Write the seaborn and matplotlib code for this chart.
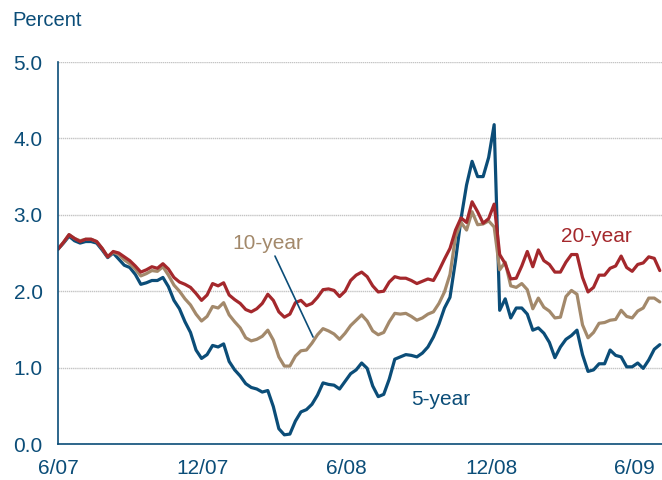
import matplotlib
matplotlib.use("Agg")
import matplotlib.pyplot as plt
import numpy as np
import pandas as pd
import seaborn as sns

# -------------------------------
# DATA - weekly yields, percent
# -------------------------------
start = pd.Timestamp("2007-06-01")

yr5 = [2.55, 2.63, 2.72, 2.66, 2.63, 2.65, 2.65, 2.63, 2.54, 2.44,
       2.50, 2.42, 2.34, 2.31, 2.22, 2.09, 2.11, 2.14, 2.14, 2.18,
       2.06, 1.88, 1.77, 1.60, 1.46, 1.23, 1.12, 1.17, 1.29, 1.27,
       1.31, 1.08, 0.97, 0.89, 0.79, 0.74, 0.72, 0.68, 0.70, 0.49,
       0.20, 0.12, 0.13, 0.30, 0.42, 0.45, 0.52, 0.64, 0.80, 0.78,
       0.77, 0.72, 0.82, 0.92, 0.97, 1.06, 0.99, 0.76, 0.62, 0.65,
       0.85, 1.11, 1.14, 1.17, 1.16, 1.14, 1.19, 1.27, 1.40, 1.57,
       1.78, 1.92, 2.40, 2.95, 3.39, 3.70, 3.50, 3.50, 3.75, 4.18,
       1.75, 1.90, 1.65, 1.78, 1.78, 1.70, 1.49, 1.52, 1.45, 1.33,
       1.13, 1.27, 1.37, 1.42, 1.49, 1.17, 0.95, 0.97, 1.05, 1.05,
       1.23, 1.16, 1.14, 1.01, 1.01, 1.06, 0.99, 1.10, 1.24, 1.30]

yr10 = [2.55, 2.64, 2.74, 2.69, 2.66, 2.68, 2.68, 2.65, 2.56, 2.45,
        2.51, 2.48, 2.41, 2.36, 2.29, 2.20, 2.23, 2.27, 2.26, 2.32,
        2.21, 2.08, 2.00, 1.90, 1.82, 1.70, 1.61, 1.67, 1.80, 1.78,
        1.85, 1.69, 1.60, 1.52, 1.39, 1.35, 1.37, 1.41, 1.49, 1.36,
        1.14, 1.02, 1.02, 1.15, 1.22, 1.23, 1.32, 1.43, 1.51, 1.48,
        1.44, 1.37, 1.45, 1.55, 1.62, 1.69, 1.61, 1.48, 1.43, 1.46,
        1.60, 1.71, 1.70, 1.71, 1.67, 1.62, 1.65, 1.70, 1.73, 1.84,
        1.99, 2.22, 2.71, 2.90, 2.80, 3.04, 2.87, 2.88, 2.92, 2.84,
        2.28, 2.38, 2.07, 2.05, 2.10, 2.02, 1.77, 1.91, 1.79, 1.74,
        1.65, 1.66, 1.93, 2.01, 1.96, 1.56, 1.39, 1.46, 1.58, 1.59,
        1.62, 1.63, 1.75, 1.67, 1.65, 1.74, 1.78, 1.91, 1.91, 1.86]

yr20 = [2.55, 2.64, 2.74, 2.69, 2.65, 2.68, 2.68, 2.65, 2.56, 2.45,
        2.52, 2.50, 2.45, 2.40, 2.33, 2.25, 2.28, 2.32, 2.30, 2.36,
        2.29, 2.18, 2.12, 2.09, 2.05, 1.97, 1.88, 1.95, 2.10, 2.07,
        2.11, 1.95, 1.89, 1.84, 1.76, 1.73, 1.77, 1.84, 1.96, 1.88,
        1.73, 1.66, 1.70, 1.85, 1.88, 1.81, 1.84, 1.92, 2.02, 2.03,
        2.01, 1.93, 2.00, 2.14, 2.21, 2.25, 2.19, 2.07, 1.99, 2.00,
        2.12, 2.19, 2.17, 2.17, 2.14, 2.10, 2.13, 2.16, 2.14, 2.27,
        2.42, 2.56, 2.80, 2.96, 2.90, 3.17, 3.04, 2.89, 2.95, 3.14,
        2.48, 2.36, 2.16, 2.17, 2.33, 2.52, 2.32, 2.54, 2.40, 2.35,
        2.25, 2.25, 2.38, 2.48, 2.48, 2.18, 1.99, 2.05, 2.21, 2.21,
        2.30, 2.33, 2.46, 2.31, 2.26, 2.35, 2.37, 2.45, 2.43, 2.27]

series_names = ["5-year", "10-year", "20-year"]
tick_dates = ["2007-06-01", "2007-12-01", "2008-06-01", "2008-12-01", "2009-06-01"]
tick_labels = ["6/07", "12/07", "6/08", "12/08", "6/09"]

dates = pd.date_range(start, periods=len(yr5), freq="7D")
df = pd.DataFrame({"5-year": yr5, "10-year": yr10, "20-year": yr20}, index=dates)
long_df = df.reset_index(names="date").melt(id_vars="date", var_name="series",
                                              value_name="yield")

# -------------------------------
# STYLE
# -------------------------------
sns.set_style("white")
plt.rcParams["font.family"] = ["Liberation Sans", "DejaVu Sans"]

blue = "#0b4d78"
tan = "#a3896b"
red = "#a4282c"
palette = {"5-year": blue, "10-year": tan, "20-year": red}

fig = plt.figure(figsize=(6.62, 4.8), dpi=100)
ax = fig.add_axes([58 / 662, 1 - 444 / 480, 1 - 58 / 662, (444 - 62) / 480])

# -------------------------------
# LINES
# -------------------------------
sns.lineplot(data=long_df, x="date", y="yield", hue="series", palette=palette,
             hue_order=series_names, linewidth=2.3, legend=False, ax=ax)

ax.set_ylim(0, 5)
ax.set_xlim(start, start + pd.Timedelta(weeks=109.4))
ax.set_yticks(np.arange(0, 5.01, 1.0))
ax.set_yticklabels([f"{v:.1f}" for v in np.arange(0, 5.01, 1.0)])
ax.set_xticks(pd.to_datetime(tick_dates))
ax.set_xticklabels(tick_labels)
ax.set_xlabel("")
ax.set_ylabel("")

ax.grid(axis="y", color="#c4c4c4", linewidth=1.0, linestyle=(0, (1, 0.5)))
ax.set_axisbelow(True)
for side in ["top", "right"]:
    ax.spines[side].set_visible(False)
for side in ["left", "bottom"]:
    ax.spines[side].set_color(blue)
    ax.spines[side].set_linewidth(1.2)

ax.tick_params(axis="y", length=0, labelsize=15, labelcolor=blue, pad=11)
ax.tick_params(axis="x", direction="in", length=5, color="#8aa6bf",
               labelsize=15, labelcolor=blue, pad=11)

fig.text(12 / 662, 1 - 21 / 480, "Percent", fontsize=14.5, color=blue,
         ha="left", va="center")

# -------------------------------
# LABELS
# -------------------------------
def wk(w):
    return start + pd.Timedelta(weeks=w)

ax.text(wk(38), 2.63, "10-year", color=tan, fontsize=15, ha="center", va="center")
ax.plot([wk(39.3), wk(46.2)], [2.46, 1.40], color=blue, linewidth=1.2)
ax.text(wk(97.6), 2.71, "20-year", color=red, fontsize=15, ha="center", va="center")
ax.text(wk(69.4), 0.58, "5-year", color=blue, fontsize=15, ha="center", va="center")

fig.savefig("out.png", dpi=100)
